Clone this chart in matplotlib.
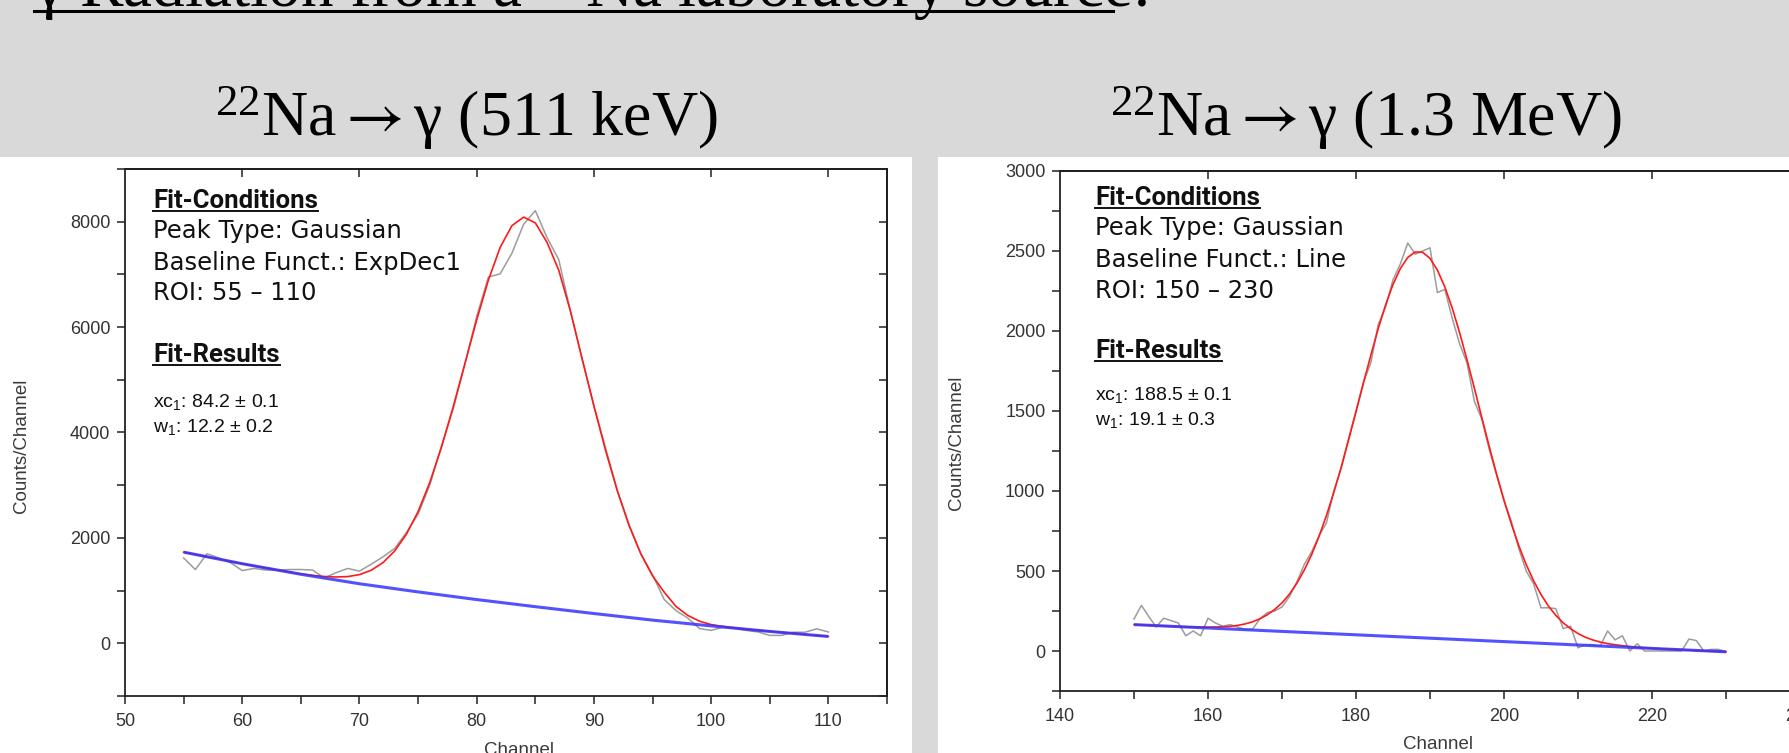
import matplotlib
matplotlib.use("Agg")
import matplotlib.pyplot as plt
from matplotlib.patches import Rectangle
from matplotlib.lines import Line2D
from matplotlib.ticker import FixedLocator, NullFormatter

plt.rcParams["mathtext.fontset"] = "stix"

# ---------------- data ----------------
left_channels = list(range(55, 111))
left_counts = [1620, 1400, 1700, 1620, 1530, 1380, 1420, 1390, 1390, 1400,
               1400, 1390, 1240, 1340, 1420, 1370, 1500, 1640, 1800, 2100,
               2450, 3000, 3750, 4450, 5300, 6200, 6950, 7010, 7400, 7950,
               8210, 7700, 7280, 6300, 5400, 4500, 3700, 2900, 2250, 1700,
               1300, 830, 620, 480, 280, 245, 305, 285, 245, 215,
               150, 150, 210, 210, 275, 215]
left_fit = [1730, 1686, 1642, 1598, 1554, 1510, 1470, 1430, 1390, 1354,
            1318, 1289, 1268, 1258, 1266, 1303, 1386, 1529, 1750, 2068,
            2499, 3053, 3723, 4490, 5313, 6136, 6894, 7511, 7924, 8087,
            7978, 7608, 7080, 6300, 5390, 4504, 3655, 2889, 2232, 1698,
            1280, 969, 700, 530, 420, 355, 320, 292, 268, 247,
            227, 207, 188, 168, 149, 130]
left_base_channels = [55, 60, 65, 70, 75, 80, 85, 90, 95, 100, 105, 110]
left_base = [1730, 1510, 1310, 1130, 975, 830, 695, 565, 440, 330, 225, 130]

right_channels = list(range(150, 231))
right_counts = [200, 285, 215, 150, 205, 190, 175, 95, 125, 95,
                205, 175, 155, 165, 150, 135, 135, 200, 240, 250,
                275, 340, 430, 540, 620, 720, 800, 1000, 1140, 1330,
                1500, 1680, 1800, 2040, 2150, 2320, 2420, 2550, 2480, 2500,
                2520, 2240, 2260, 2080, 1920, 1800, 1560, 1450, 1260, 1100,
                940, 810, 640, 500, 420, 270, 270, 265, 140, 155,
                20, 40, 40, 30, 125, 70, 95, 0, 45, 0,
                0, 0, 0, 0, 0, 75, 65, 0, 10, 10, -5]
right_fit = [165, 163, 161, 159, 157, 154, 153, 151, 150, 149,
             149, 150, 152, 154, 160, 169, 182, 201, 226, 259,
             301, 355, 423, 505, 602, 716, 846, 991, 1149, 1319,
             1495, 1674, 1848, 2014, 2163, 2291, 2391, 2460, 2494, 2492,
             2454, 2381, 2276, 2144, 1990, 1820, 1642, 1459, 1279, 1105,
             942, 793, 658, 540, 439, 353, 281, 223, 176, 139,
             109, 86, 69, 56, 46, 39, 33, 28, 23, 20,
             17, 14, 12, 10, 8, 6, 3, 1, -1, -3, -5]
right_base_channels = [150, 230]
right_base = [165, -5]

title_text = "γ Radiation from a $\\mathregular{^{22}}$Na laboratory source:"
left_title = "$\\mathregular{^{22}}$Na$\\rightarrow$γ (511 keV)"
right_title = "$\\mathregular{^{22}}$Na$\\rightarrow$γ (1.3 MeV)"
left_cond = ["Peak Type: Gaussian", "Baseline Funct.: ExpDec1", "ROI: 55 – 110"]
right_cond = ["Peak Type: Gaussian", "Baseline Funct.: Line", "ROI: 150 – 230"]
left_res = ["xc$\\mathregular{_1}$: 84.2 ± 0.1", "w$\\mathregular{_1}$: 12.2 ± 0.2"]
right_res = ["xc$\\mathregular{_1}$: 188.5 ± 0.1", "w$\\mathregular{_1}$: 19.1 ± 0.3"]

# ---------------- figure ----------------
W, H = 1789, 753
fig = plt.figure(figsize=(W / 100, H / 100), dpi=100, facecolor="#d9d9d9")


def fx(px):
    return px / W


def fy(py):
    return 1 - py / H


fig.add_artist(Rectangle((0, 0), fx(912), fy(157), transform=fig.transFigure,
                         facecolor="white", edgecolor="none", zorder=0))
fig.add_artist(Rectangle((fx(938), 0), 1 - fx(938), fy(157), transform=fig.transFigure,
                         facecolor="white", edgecolor="none", zorder=0))

AX_FONT = dict(family="Liberation Sans", size=13, color="#333333")
TICK_LEN = 5.5


def make_axes(l, r, t, b, xlim, ylim, xmaj, xmin, ymaj, ymin, top_t, right_t):
    ax = fig.add_axes([fx(l), fy(b), fx(r) - fx(l), (b - t) / H])
    ax.set_facecolor("none")
    ax.set_xlim(*xlim)
    ax.set_ylim(*ylim)
    ax.xaxis.set_major_locator(FixedLocator(xmaj))
    ax.xaxis.set_minor_locator(FixedLocator(xmin))
    ax.yaxis.set_major_locator(FixedLocator(ymaj))
    ax.yaxis.set_minor_locator(FixedLocator(ymin))
    ax.tick_params(which="both", direction="out", length=TICK_LEN, width=1.1,
                   color="#222222", labelsize=AX_FONT["size"], labelcolor=AX_FONT["color"])
    ax.tick_params(axis="x", pad=7)
    ax.tick_params(axis="y", pad=5)
    for lab in ax.get_xticklabels() + ax.get_yticklabels():
        lab.set_family(AX_FONT["family"])
    for s in ax.spines.values():
        s.set_linewidth(1.3)
        s.set_color("#222222")
    sx = ax.secondary_xaxis("top")
    sx.xaxis.set_major_locator(FixedLocator(top_t))
    sx.xaxis.set_major_formatter(NullFormatter())
    sx.tick_params(direction="in", length=TICK_LEN, width=1.1, color="#222222")
    sx.spines["top"].set_linewidth(1.3)
    sy = ax.secondary_yaxis("right")
    sy.yaxis.set_major_locator(FixedLocator(right_t))
    sy.yaxis.set_major_formatter(NullFormatter())
    sy.tick_params(direction="in", length=TICK_LEN, width=1.1, color="#222222")
    sy.spines["right"].set_linewidth(1.3)
    return ax


# left panel
axL = make_axes(125, 887, 169, 696, (50, 115), (-1000, 9000),
                list(range(50, 111, 10)), list(range(55, 116, 10)),
                [0, 2000, 4000, 6000, 8000], [-1000, 1000, 3000, 5000, 7000, 9000],
                list(range(60, 111, 10)), list(range(-1000, 9001, 1000)))
# right panel
axR = make_axes(1060, 1800, 171, 691, (140, 240), (-250, 3000),
                list(range(140, 241, 20)), list(range(150, 241, 20)),
                list(range(0, 3001, 500)), list(range(-250, 3000, 500)),
                list(range(160, 241, 20)), list(range(0, 3001, 500)))

GRAY, RED, BLUE = "#9c9c9c", "#ff1a1a", "#3434ff"
for ax, ch, cnt, fit, bch, bv in [
        (axL, left_channels, left_counts, left_fit, left_base_channels, left_base),
        (axR, right_channels, right_counts, right_fit, right_base_channels, right_base)]:
    ax.plot(ch, cnt, color=GRAY, lw=1.1, zorder=2)
    ax.plot(ch, fit, color=RED, lw=1.2, zorder=3)
    ax.plot(bch, bv, color=BLUE, lw=2.2, alpha=0.85, zorder=4, solid_capstyle="butt")

# axis labels
lab_kw = dict(family="Liberation Sans", size=13.5, color="#3a3a3a")
fig.text(fx(22), fy(446), "Counts/Channel", rotation=90, ha="center", va="center", **lab_kw)
fig.text(fx(957), fy(443), "Counts/Channel", rotation=90, ha="center", va="center", **lab_kw)
fig.text(fx(519), fy(742), "Channel", ha="center", va="top", **lab_kw)
fig.text(fx(1438), fy(736), "Channel", ha="center", va="top", **lab_kw)

# titles
fig.text(fx(34), fy(6), title_text, family="Liberation Serif", size=47, va="baseline", ha="left")
fig.add_artist(Line2D([fx(34), fx(1113)], [fy(11), fy(11)], color="black", lw=2.2,
                      transform=fig.transFigure))
fig.text(fx(466), fy(135.5), left_title, family="Liberation Serif", size=46,
         ha="center", va="baseline")
fig.text(fx(1366), fy(135.5), right_title, family="Liberation Serif", size=46,
         ha="center", va="baseline")

# fit annotations
bold_texts = []


def annotate(x0, base, cond, res):
    t = fig.text(fx(x0), fy(base[0]), "Fit-Conditions", family="Roboto", weight="bold",
                 size=18.5, va="baseline", color="#111111")
    bold_texts.append((t, base[0]))
    for txt, b in zip(cond, base[1:4]):
        fig.text(fx(x0), fy(b), txt, family="DejaVu Sans", size=17.5, va="baseline",
                 color="#111111")
    t = fig.text(fx(x0), fy(base[4]), "Fit-Results", family="Roboto", weight="bold",
                 size=18.5, va="baseline", color="#111111")
    bold_texts.append((t, base[4]))
    for txt, b in zip(res, base[5:7]):
        fig.text(fx(x0), fy(b), txt, family="Liberation Sans", size=14, va="baseline",
                 color="#111111")


annotate(153, [208, 238, 270, 300.5, 361.5, 406.5, 431.5], left_cond, left_res)
annotate(1095, [205, 235, 267, 298, 358, 400, 425], right_cond, right_res)

fig.canvas.draw()
r = fig.canvas.get_renderer()
for t, b in bold_texts:
    bb = t.get_window_extent(r)
    yline = fy(b + 3)
    fig.add_artist(Line2D([bb.x0 / W, bb.x1 / W], [yline, yline], color="#111111", lw=1.4,
                          transform=fig.transFigure))

fig.savefig("out.png", dpi=100, facecolor=fig.get_facecolor())
